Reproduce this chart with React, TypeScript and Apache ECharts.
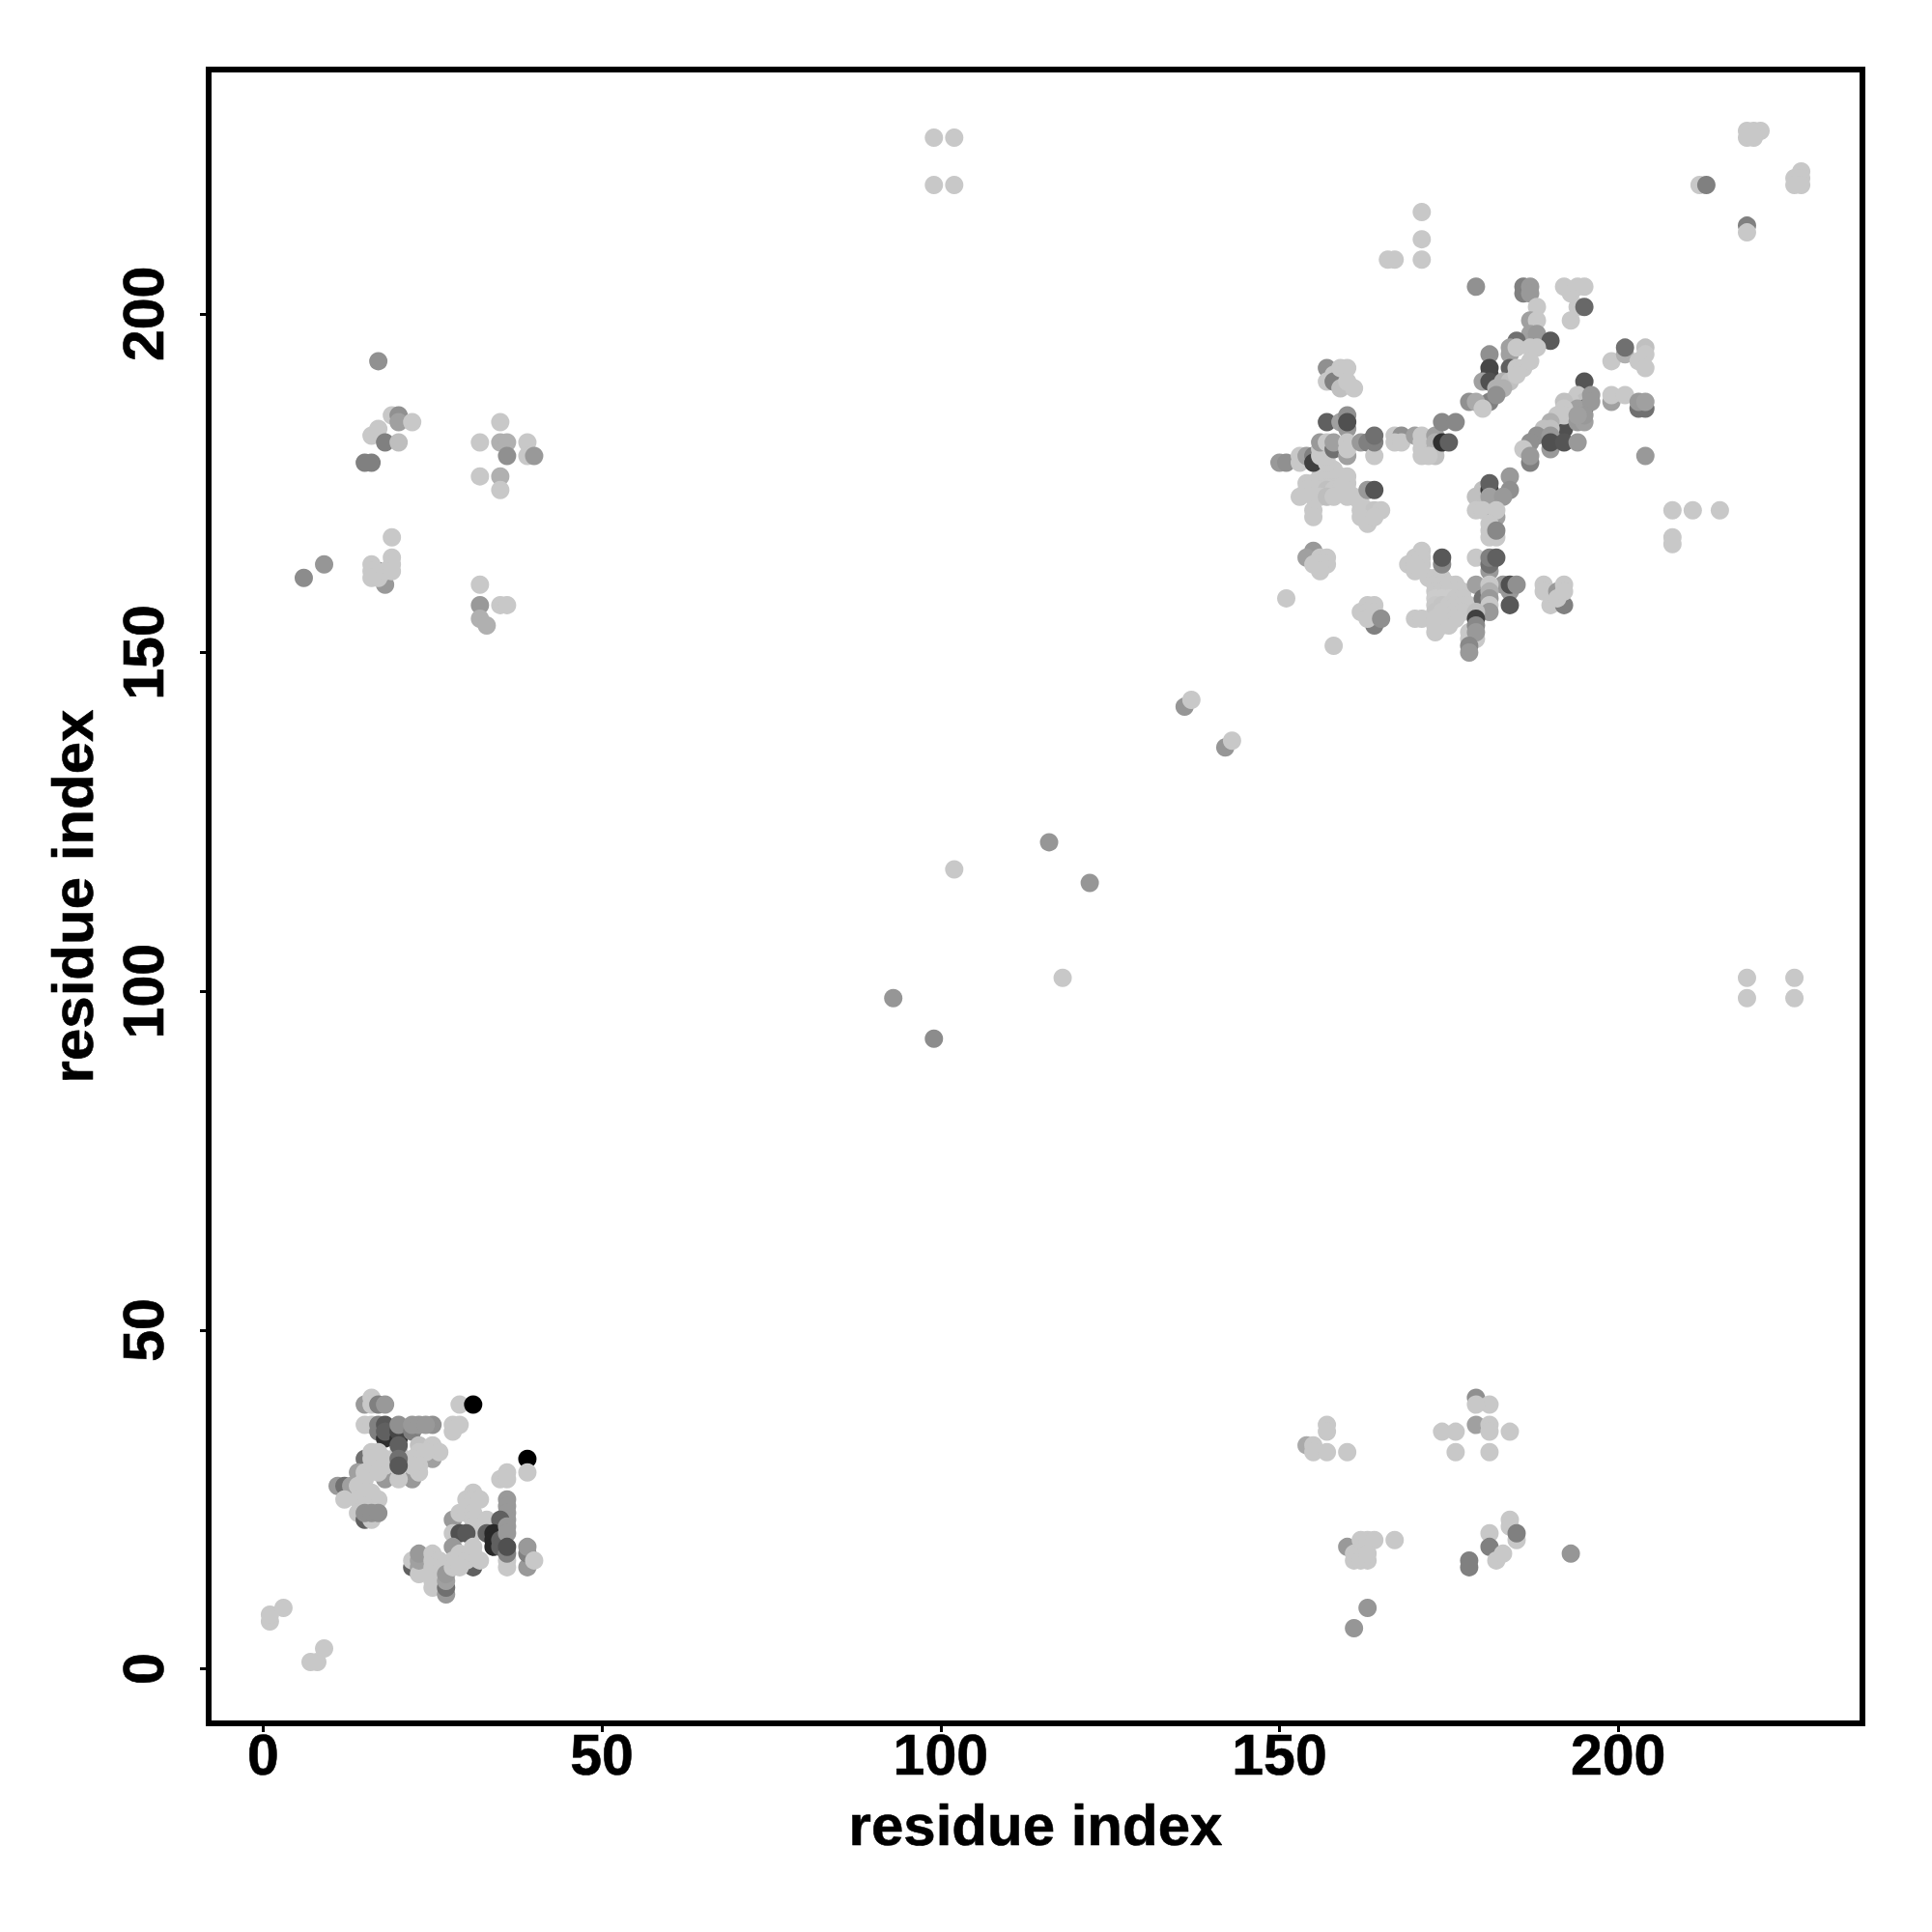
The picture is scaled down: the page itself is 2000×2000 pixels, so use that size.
import React, { useEffect, useRef } from "react";
import * as echarts from "echarts";

const tickValues = [0, 50, 100, 150, 200];
const axisTitle = "residue index";
const L = 200;

// [residue x, residue y, grey level]
const scattered: number[][] = [
  [1,7,L],[1,8,L],[3,9,L],[7,1,L],[8,1,L],[9,3,L],
  [99,226,L],[102,226,L],[99,219,L],[102,219,L],
  [6,161,140],[9,163,150],[17,193,145],
  [93,99,150],[99,93,140],[102,118,L],[118,102,L],[116,122,150],[122,116,150],
  [136,142,150],[137,143,L],[142,136,150],[143,137,L],
  [163,9,150],[161,6,150],[193,17,150],
  [212,219,L],[213,219,128],[219,213,128],[219,212,L],
  [219,227,L],[220,227,L],[221,227,L],[219,226,L],[220,226,L],
  [227,221,L],[226,220,L],[227,220,L],[226,219,L],[227,219,L],
  [219,102,L],[226,102,L],[219,99,L],[226,99,L],
  [208,171,L],[211,171,L],[215,171,L],[208,167,L],[208,166,L],
  [171,215,L],[171,211,L],[171,208,L],[166,208,L],[167,208,L],
  [151,158,L],[158,151,L],
];

const upperLeft: number[][] = [
  [15,178,128],[16,178,128],[16,182,L],[17,183,L],[18,181,128],[19,185,L],[20,185,144],[20,184,160],[22,184,L],[20,181,190],
  [19,167,L],[19,164,L],[19,163,L],[18,160,153],[17,162,96],[16,163,L],[16,162,L],[16,161,L],[17,161,L],[18,162,L],[19,162,L],
  [32,181,L],[35,184,L],[35,181,176],[36,181,176],[36,179,144],[39,181,L],[39,179,L],[40,179,153],[32,176,L],[35,176,176],[35,174,L],
  [32,160,L],[32,157,153],[32,155,176],[33,154,176],[35,157,L],[36,157,L],
];

const lowerRight: number[][] = [
  [154,33,170],[155,33,L],[157,36,L],[157,35,L],[155,32,L],[157,32,L],[160,32,L],
  [174,35,L],[176,35,L],[176,32,L],[179,40,144],[181,39,L],[179,39,L],[179,36,160],[181,36,L],[181,35,L],[184,35,L],[181,32,L],
  [160,18,153],[161,17,L],[162,19,L],[163,19,L],[164,19,L],[167,19,L],[161,16,L],[162,16,L],[163,16,L],[163,17,L],
  [178,16,128],[178,15,128],[181,20,L],[181,18,128],[182,16,L],[183,17,L],[184,22,L],[184,21,L],[185,19,L],[185,20,128],
];

const lowerLeft: number[][] = [
  [15,39,153],[16,40,L],[16,39,L],[17,39,128],[18,39,153],[29,39,L],[31,39,0],
  [15,36,L],[16,36,L],[17,36,128],[17,35,128],[18,34,48],[18,36,88],[18,35,96],[20,34,48],[20,35,70],[20,36,144],[22,35,128],[22,36,153],[23,36,153],[25,36,144],[24,36,153],
  [28,36,L],[29,36,L],[28,35,L],
  [15,31,112],[25,31,160],[22,28,153],[18,28,153],[14,29,160],
  [23,33,192],[25,33,L],[26,32,L],[23,32,L],[24,32,L],[16,32,L],[17,32,L],[16,31,L],[17,30,L],[18,30,L],[20,32,L],[22,31,L],[23,30,L],[23,29,L],[15,29,L],[15,28,L],[20,28,L],[17,29,L],[18,31,L],[22,30,L],
  [20,33,96],[20,31,112],[20,30,88],
  [11,27,153],[12,27,112],[13,27,160],[12,25,L],[14,27,L],[14,25,L],[15,26,L],[16,26,L],[17,25,L],[15,24,L],[14,23,L],
  [15,22,96],[16,22,L],[15,23,144],[16,23,144],[17,23,144],
  [39,31,0],[39,29,L],[35,28,L],[36,29,L],[36,28,L],
  [31,26,L],[30,25,L],[31,25,L],[32,25,L],[36,25,153],[36,24,153],[36,23,153],[36,22,153],
  [28,22,153],[29,23,L],[30,23,L],[31,23,L],[31,22,L],[33,22,L],[35,22,96],
  [28,20,L],[31,20,L],[31,21,L],[29,20,80],[30,20,88],[33,20,96],[34,20,40],[34,19,40],[34,18,40],[35,19,96],[35,18,96],[36,21,153],[36,20,153],[36,16,L],[36,15,L],[36,17,128],[36,18,80],
  [39,15,153],[39,17,128],[39,18,153],[40,16,L],
  [28,18,153],[28,16,L],[29,17,L],[31,15,96],[30,16,L],[31,17,L],[32,16,L],[31,18,L],
  [22,15,96],[22,16,L],[23,15,160],[23,14,L],[23,16,160],[23,17,153],[25,17,L],[25,16,L],[26,16,L],[25,15,L],[25,14,L],[25,13,L],[25,12,L],
  [27,11,153],[27,12,112],[27,13,160],[27,14,153],[28,15,L],[29,15,L],
];

const upperRightLight: number[][] = [
  [154,175,L],[155,175,L],[156,175,L],[157,175,L],[158,175,L],[159,175,L],[160,175,L],
  [156,176,L],[157,176,L],[158,176,L],[159,176,L],[160,176,L],[157,177,L],[158,177,L],
  [154,174,L],[155,174,L],[156,174,L],[157,174,192],[158,174,L],[159,174,L],[160,174,L],
  [153,173,L],[155,173,L],[156,173,L],[157,173,190],[158,173,L],[160,173,L],[161,173,L],[162,172,L],
  [155,171,L],[155,170,L],[162,171,L],[163,171,L],[164,171,196],[165,171,L],[162,170,L],[163,169,L],[164,170,L],
  [172,161,L],[173,161,L],[174,161,L],[173,160,L],[174,160,L],[175,160,L],[176,160,L],[173,159,L],[174,159,L],[175,159,L],[176,159,L],[177,159,L],
  [173,158,204],[174,158,204],[175,158,204],[176,158,L],[177,158,L],[173,157,L],[174,157,196],[175,157,L],[176,157,L],[177,157,L],[178,157,L],
  [173,156,196],[174,156,L],[175,156,L],[176,156,L],[177,156,L],[170,155,L],[171,155,L],[173,155,L],[174,155,L],[175,155,L],[176,155,L],[173,154,L],[175,154,L],[174,154,L],[173,153,L],
];

const upperRight: number[][] = [
  [179,204,145],[186,204,128],[186,203,128],[187,204,153],[187,203,153],
  [188,201,L],[187,199,160],[188,199,L],[187,197,160],[188,197,153],[190,196,90],
  [185,196,112],[184,195,160],[184,194,160],[185,195,L],[187,195,L],[188,195,L],
  [181,194,144],[181,192,70],[181,191,70],[184,192,96],[185,192,L],[186,192,L],[187,193,L],
  [180,190,160],[181,190,80],[183,190,176],[184,190,192],[185,191,L],[182,189,176],[183,189,176],[181,187,128],[182,188,144],
  [178,187,144],[179,187,170],[180,186,L],
  [195,190,85],[194,188,L],[195,187,192],[193,187,L],[192,187,192],[195,186,85],[194,186,160],[196,188,153],[196,187,153],
  [199,187,160],[199,188,L],[201,188,L],[203,186,112],[204,186,112],[203,187,153],[204,187,160],
  [199,193,L],[201,194,176],[201,195,112],[204,195,192],[204,194,L],[203,193,L],[204,192,L],[204,179,153],
  [192,183,80],[192,186,L],[192,185,L],[191,185,L],[194,184,153],[195,184,160],[195,185,153],[194,185,160],
  [190,184,176],[189,183,192],[190,183,192],[188,182,144],[187,181,144],[190,182,153],
  [190,180,153],[190,181,80],[192,181,85],[194,181,153],[186,180,L],[187,178,128],[187,179,153],
  [193,199,L],[194,201,L],[195,201,104],[192,204,L],[193,203,L],[194,204,L],[195,204,L],
  [157,192,144],[157,190,L],[158,191,L],[158,190,128],[159,192,L],[160,192,L],[159,189,192],[160,190,L],[161,189,L],
  [157,184,96],[159,184,160],[160,185,144],[160,183,153],[160,184,80],
  [150,178,153],[151,178,144],[153,179,L],[153,178,L],[154,179,160],[155,179,128],[155,178,64],[156,179,L],[156,180,L],[157,178,L],[157,179,L],
  [156,181,153],[157,181,L],[158,180,112],[158,181,160],[160,179,160],[160,181,L],[160,180,L],[162,181,153],[163,181,128],[164,179,L],[164,181,128],[164,182,112],
  [163,174,153],[164,174,85],
  [184,176,153],[184,174,144],[179,173,192],[180,174,192],[181,174,56],[181,175,96],[181,173,160],[183,173,153],[179,171,L],[180,171,L],[182,170,160],[182,171,L],
  [181,168,L],[181,167,L],[182,167,L],[181,169,L],[182,168,136],
  [155,165,153],[154,164,160],[156,164,L],[157,164,L],[157,163,L],[155,163,L],[156,163,L],[156,162,L],
  [171,165,L],[170,164,L],[169,163,L],[171,164,L],[170,162,L],[171,163,L],[170,163,L],
  [174,163,136],[174,164,88],[179,164,L],[181,162,153],[181,163,112],[181,164,128],[182,164,96],
  [179,160,160],[183,160,153],[184,159,153],[184,160,80],[185,160,144],[184,157,88],
  [181,160,L],[180,158,112],[181,159,176],[181,158,153],[181,157,L],[181,156,153],[179,156,192],[178,153,L],[178,152,L],[179,152,L],[179,155,64],[179,154,136],[179,153,153],[178,151,136],[178,150,153],
  [189,160,L],[189,159,L],[190,157,L],[191,159,153],[192,157,128],[191,158,L],[192,160,L],[192,159,L],
  [162,156,L],[163,157,L],[164,157,L],[163,156,L],[164,156,L],[164,154,128],[163,155,L],[165,155,144],
  [167,182,L],[168,182,144],[167,181,L],[168,181,L],[170,182,160],[171,182,L],[171,181,L],[171,180,L],[171,179,L],
  [173,182,160],[173,181,176],[173,180,176],[173,179,192],[172,179,L],[174,184,136],[176,184,136],[174,181,48],[175,181,96],
];

const allContacts = [...scattered, ...upperLeft, ...lowerRight, ...lowerLeft, ...upperRightLight, ...upperRight];

export default function App() {
  const ref = useRef<HTMLDivElement>(null);
  useEffect(() => {
    document.body.style.margin = "0";
    const chart = echarts.init(ref.current!, null, { renderer: "svg" });
    const font = { fontFamily: "Liberation Sans", fontWeight: "bold" as const, color: "#000", textBorderColor: "#000", textBorderWidth: 0.6 };
    const axisCommon = {
      type: "value" as const,
      min: -8.04,
      max: 236.04,
      name: axisTitle,
      nameLocation: "middle" as const,
      nameMoveOverlap: false,
      nameTextStyle: { ...font, fontSize: 60 },
      splitLine: { show: false },
      axisLine: { show: false, onZero: false },
      axisTick: { show: true, length: 9, lineStyle: { color: "#000", width: 3 }, customValues: tickValues },
    };
    chart.setOption({
      animation: false,
      backgroundColor: "#fff",
      grid: { left: 216, top: 72, width: 1712, height: 1712, show: true, borderColor: "#000", borderWidth: 6, backgroundColor: "#fff" },
      xAxis: {
        ...axisCommon,
        nameGap: 75,
        axisLabel: { ...font, fontSize: 59, margin: 3, customValues: tickValues, hideOverlap: false },
      },
      yAxis: {
        ...axisCommon,
        nameGap: 111,
        axisLabel: { ...font, fontSize: 59, margin: 67, rotate: 90, customValues: tickValues, align: "center", verticalAlign: "middle" },
      },
      series: [{
        type: "scatter",
        symbol: "circle",
        symbolSize: 19,
        clip: false,
        data: allContacts.map(([x, y, g]) => ({
          value: [x, y],
          itemStyle: { color: `rgb(${g},${g},${g})`, opacity: 1 },
        })),
      }],
    });
    return () => chart.dispose();
  }, []);
  return <div ref={ref} style={{ width: 2000, height: 2000 }} />;
}
